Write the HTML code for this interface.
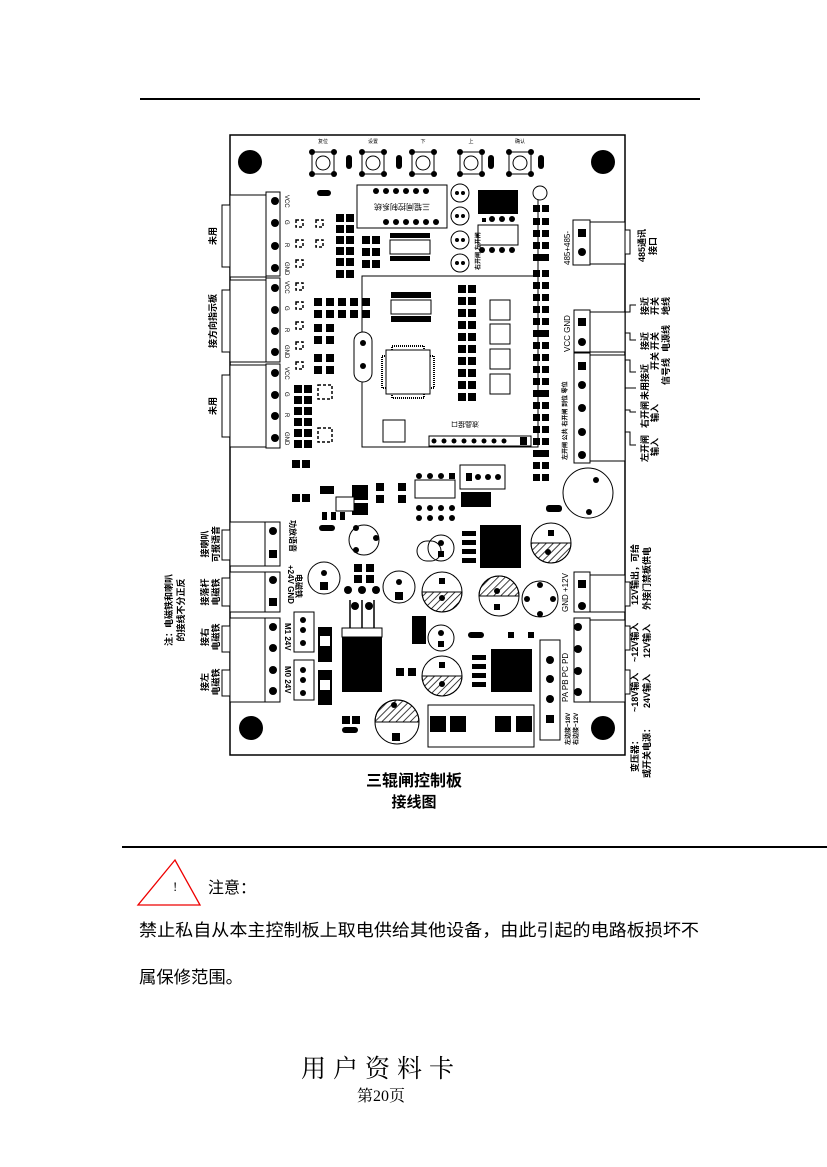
<!DOCTYPE html>
<html><head><meta charset="utf-8"><style>
html,body{margin:0;padding:0;background:#fff;}
body{width:827px;height:1167px;position:relative;overflow:hidden;font-family:"Liberation Serif","Noto Serif CJK SC",serif;}
svg{position:absolute;left:0;top:0;}
</style></head><body>
<svg width="827" height="1167" viewBox="0 0 827 1167" xmlns="http://www.w3.org/2000/svg" font-family="Liberation Sans, Noto Sans CJK SC, sans-serif">
<line x1="140" y1="99" x2="700" y2="99" stroke="#000" stroke-width="2"/>
<rect x="230" y="135" width="395" height="620" fill="#fff" stroke="#000" stroke-width="1.5"/>
<g fill="#000">
<circle cx="250" cy="162" r="12"/><circle cx="603" cy="162" r="12"/>
<circle cx="251" cy="728" r="12"/><circle cx="603" cy="728" r="12"/>
</g>
<g stroke="#000" fill="#fff" stroke-width="1">
<rect x="312" y="152" width="22" height="22"/><circle cx="323" cy="163" r="7"/>
<rect x="362" y="152" width="22" height="22"/><circle cx="373" cy="163" r="7"/>
<rect x="412" y="152" width="22" height="22"/><circle cx="423" cy="163" r="7"/>
<rect x="460" y="152" width="22" height="22"/><circle cx="471" cy="163" r="7"/>
<rect x="509" y="152" width="22" height="22"/><circle cx="520" cy="163" r="7"/>
</g>
<g fill="#000">
<circle cx="312" cy="152" r="3"/><circle cx="334" cy="152" r="3"/><circle cx="312" cy="174" r="3"/><circle cx="334" cy="174" r="3"/>
<circle cx="362" cy="152" r="3"/><circle cx="384" cy="152" r="3"/><circle cx="362" cy="174" r="3"/><circle cx="384" cy="174" r="3"/>
<circle cx="412" cy="152" r="3"/><circle cx="434" cy="152" r="3"/><circle cx="412" cy="174" r="3"/><circle cx="434" cy="174" r="3"/>
<circle cx="460" cy="152" r="3"/><circle cx="482" cy="152" r="3"/><circle cx="460" cy="174" r="3"/><circle cx="482" cy="174" r="3"/>
<circle cx="509" cy="152" r="3"/><circle cx="531" cy="152" r="3"/><circle cx="509" cy="174" r="3"/><circle cx="531" cy="174" r="3"/>
<rect x="346" y="155" width="6" height="14" rx="3"/><rect x="396" y="155" width="6" height="14" rx="3"/>
<rect x="488" y="155" width="6" height="14" rx="3"/><rect x="538" y="155" width="6" height="14" rx="3"/>
<rect x="317" y="190" width="14" height="6" rx="3"/>
</g>
<g font-size="5" text-anchor="middle"><text x="323" y="143">复位</text><text x="373" y="143">设置</text><text x="423" y="143">下</text><text x="471" y="143">上</text><text x="520" y="143">确认</text></g>
<rect x="357" y="185" width="90" height="43" fill="#fff" stroke="#000"/>
<g fill="#000"><circle cx="376" cy="191" r="3"/><circle cx="386" cy="191" r="3"/><circle cx="396" cy="191" r="3"/><circle cx="406" cy="191" r="3"/><circle cx="416" cy="191" r="3"/><circle cx="426" cy="191" r="3"/>
<circle cx="386" cy="222" r="3"/><circle cx="396" cy="222" r="3"/><circle cx="406" cy="222" r="3"/><circle cx="416" cy="222" r="3"/><circle cx="426" cy="222" r="3"/><circle cx="436" cy="222" r="3"/></g>
<text x="402" y="210" font-size="8" text-anchor="middle" transform="rotate(180 402 207)">三辊闸控制系统</text>
<line x1="447" y1="276" x2="538" y2="276" stroke="#000"/>
<line x1="538" y1="190" x2="538" y2="276" stroke="#000"/>
<g stroke="#000" fill="#fff"><circle cx="460" cy="193" r="9"/><circle cx="460" cy="216" r="9"/><circle cx="460" cy="240" r="9"/><circle cx="460" cy="263" r="9"/></g>
<g fill="#000"><circle cx="457" cy="193" r="2"/><circle cx="463" cy="193" r="2"/><circle cx="457" cy="216" r="2"/><circle cx="463" cy="216" r="2"/><circle cx="457" cy="240" r="2"/><circle cx="463" cy="240" r="2"/><circle cx="457" cy="263" r="2"/><circle cx="463" cy="263" r="2"/></g>
<rect x="478" y="225" width="40" height="20" fill="#fff" stroke="#000"/>
<g fill="#000"><rect x="478" y="190" width="40" height="24"/><circle cx="482" cy="250" r="3"/><circle cx="492" cy="250" r="3"/><circle cx="502" cy="250" r="3"/><circle cx="512" cy="250" r="3"/>
<rect x="482" y="218" width="4" height="4"/><circle cx="492" cy="219" r="3"/><circle cx="502" cy="219" r="3"/><circle cx="512" cy="219" r="3"/></g>
<circle cx="540" cy="193" r="7" fill="#fff" stroke="#000"/>
<rect x="362" y="276" width="176" height="171" fill="none" stroke="#000"/>
<rect x="391" y="300" width="40" height="14" fill="#fff" stroke="#000"/>
<g fill="#000"><rect x="391" y="292" width="40" height="6"/><rect x="391" y="316" width="40" height="6"/></g>
<rect x="390" y="240" width="40" height="14" fill="#fff" stroke="#000"/>
<g fill="#000"><rect x="390" y="233" width="40" height="5"/><rect x="390" y="256" width="40" height="5"/></g>
<rect x="392" y="346" width="32" height="52" fill="none" stroke="#000" stroke-dasharray="1 1" stroke-width="2"/>
<rect x="382" y="356" width="52" height="32" fill="none" stroke="#000" stroke-dasharray="1 1" stroke-width="2"/>
<rect x="386" y="350" width="44" height="44" fill="#fff" stroke="#000"/>
<rect x="354" y="332" width="18" height="50" rx="9" fill="#fff" stroke="#000"/>
<g fill="#000"><circle cx="363" cy="343" r="3"/><circle cx="363" cy="366" r="3"/></g>
<rect x="383" y="420" width="22" height="22" fill="#fff" stroke="#000"/>
<rect x="429" y="436" width="102" height="10" fill="#fff" stroke="#000"/>
<g fill="#000"><circle cx="434" cy="441" r="2.5"/><circle cx="444" cy="441" r="2.5"/><circle cx="454" cy="441" r="2.5"/><circle cx="464" cy="441" r="2.5"/><circle cx="474" cy="441" r="2.5"/><circle cx="484" cy="441" r="2.5"/><circle cx="494" cy="441" r="2.5"/><circle cx="504" cy="441" r="2.5"/><rect x="520" y="437" width="7" height="8"/></g>
<text x="465" y="428" font-size="7" text-anchor="middle" transform="rotate(180 465 425)">液晶接口</text>
<g stroke="#000" fill="#fff"><rect x="490" y="300" width="20" height="20"/><rect x="490" y="324" width="20" height="20"/><rect x="490" y="349" width="20" height="20"/><rect x="490" y="374" width="20" height="20"/></g>
<g fill="#000">
<rect x="336" y="214" width="8" height="8"/><rect x="346" y="214" width="8" height="8"/>
<rect x="336" y="225" width="8" height="8"/><rect x="346" y="225" width="8" height="8"/>
<rect x="336" y="236" width="8" height="8"/><rect x="346" y="236" width="8" height="8"/>
<rect x="336" y="247" width="8" height="8"/><rect x="346" y="247" width="8" height="8"/>
<rect x="336" y="258" width="8" height="8"/><rect x="346" y="258" width="8" height="8"/>
<rect x="336" y="270" width="8" height="8"/><rect x="346" y="270" width="8" height="8"/>
<rect x="362" y="236" width="8" height="8"/><rect x="372" y="236" width="8" height="8"/>
<rect x="362" y="248" width="8" height="8"/><rect x="372" y="248" width="8" height="8"/>
<rect x="362" y="260" width="8" height="8"/><rect x="372" y="260" width="8" height="8"/>
<rect x="314" y="298" width="8" height="8"/><rect x="326" y="298" width="8" height="8"/><rect x="338" y="298" width="8" height="8"/><rect x="350" y="298" width="8" height="8"/><rect x="362" y="298" width="8" height="8"/>
<rect x="314" y="310" width="8" height="8"/><rect x="326" y="310" width="8" height="8"/><rect x="338" y="310" width="8" height="8"/><rect x="350" y="310" width="8" height="8"/><rect x="362" y="310" width="8" height="8"/>
<rect x="314" y="324" width="8" height="8"/><rect x="326" y="324" width="8" height="8"/><rect x="314" y="336" width="8" height="8"/><rect x="326" y="336" width="8" height="8"/>
<rect x="314" y="354" width="8" height="8"/><rect x="326" y="354" width="8" height="8"/><rect x="314" y="366" width="8" height="8"/><rect x="326" y="366" width="8" height="8"/>
<rect x="294" y="385" width="8" height="8"/><rect x="304" y="385" width="8" height="8"/>
<rect x="294" y="396" width="8" height="8"/><rect x="304" y="396" width="8" height="8"/>
<rect x="294" y="407" width="8" height="8"/><rect x="304" y="407" width="8" height="8"/>
<rect x="294" y="418" width="8" height="8"/><rect x="304" y="418" width="8" height="8"/>
<rect x="294" y="429" width="8" height="8"/><rect x="304" y="429" width="8" height="8"/>
<rect x="294" y="440" width="8" height="8"/><rect x="304" y="440" width="8" height="8"/>
<rect x="458" y="285" width="8" height="8"/><rect x="468" y="285" width="8" height="8"/>
<rect x="458" y="297" width="8" height="8"/><rect x="468" y="297" width="8" height="8"/>
<rect x="458" y="309" width="8" height="8"/><rect x="468" y="309" width="8" height="8"/>
<rect x="458" y="321" width="8" height="8"/><rect x="468" y="321" width="8" height="8"/>
<rect x="458" y="333" width="8" height="8"/><rect x="468" y="333" width="8" height="8"/>
<rect x="458" y="345" width="8" height="8"/><rect x="468" y="345" width="8" height="8"/>
<rect x="458" y="357" width="8" height="8"/><rect x="468" y="357" width="8" height="8"/>
<rect x="458" y="369" width="8" height="8"/><rect x="468" y="369" width="8" height="8"/>
<rect x="458" y="381" width="8" height="8"/><rect x="468" y="381" width="8" height="8"/>
<rect x="458" y="393" width="8" height="8"/><rect x="468" y="393" width="8" height="8"/>
</g>
<g fill="#000">
<rect x="533" y="205" width="7" height="7"/><rect x="542" y="205" width="7" height="7"/>
<rect x="533" y="218" width="7" height="7"/><rect x="542" y="218" width="7" height="7"/>
<rect x="533" y="230" width="7" height="7"/><rect x="542" y="230" width="7" height="7"/>
<rect x="533" y="242" width="7" height="7"/><rect x="542" y="242" width="7" height="7"/>
<rect x="533" y="254" width="16" height="7"/>
<rect x="533" y="270" width="7" height="7"/><rect x="542" y="270" width="7" height="7"/>
<rect x="533" y="282" width="7" height="7"/><rect x="542" y="282" width="7" height="7"/>
<rect x="533" y="294" width="7" height="7"/><rect x="542" y="294" width="7" height="7"/>
<rect x="533" y="306" width="7" height="7"/><rect x="542" y="306" width="7" height="7"/>
<rect x="533" y="318" width="7" height="7"/><rect x="542" y="318" width="7" height="7"/>
<rect x="533" y="330" width="16" height="7"/>
<rect x="533" y="342" width="7" height="7"/><rect x="542" y="342" width="7" height="7"/>
<rect x="533" y="354" width="7" height="7"/><rect x="542" y="354" width="7" height="7"/>
<rect x="533" y="366" width="7" height="7"/><rect x="542" y="366" width="7" height="7"/>
<rect x="533" y="378" width="7" height="7"/><rect x="542" y="378" width="7" height="7"/>
<rect x="533" y="390" width="16" height="7"/>
<rect x="533" y="402" width="7" height="7"/><rect x="542" y="402" width="7" height="7"/>
<rect x="533" y="414" width="7" height="7"/><rect x="542" y="414" width="7" height="7"/>
<rect x="533" y="426" width="7" height="7"/><rect x="542" y="426" width="7" height="7"/>
<rect x="533" y="438" width="7" height="7"/><rect x="542" y="438" width="7" height="7"/>
<rect x="533" y="450" width="16" height="7"/>
<rect x="533" y="462" width="7" height="7"/><rect x="542" y="462" width="7" height="7"/>
<rect x="533" y="474" width="7" height="7"/><rect x="542" y="474" width="7" height="7"/>
</g>
<g fill="none" stroke="#000" stroke-width="1.5" stroke-dasharray="3 2">
<rect x="296" y="220" width="7" height="7"/><rect x="316" y="220" width="7" height="7"/>
<rect x="296" y="240" width="7" height="7"/><rect x="316" y="240" width="7" height="7"/>
<rect x="296" y="260" width="7" height="7"/><rect x="296" y="283" width="7" height="7"/>
<rect x="296" y="302" width="7" height="7"/><rect x="296" y="322" width="7" height="7"/>
<rect x="296" y="342" width="7" height="7"/><rect x="296" y="362" width="7" height="7"/>
<rect x="318" y="385" width="14" height="14"/><rect x="318" y="428" width="14" height="14"/>
</g>
<g stroke="#000" fill="#fff">
<rect x="222" y="205" width="8" height="62"/><rect x="230" y="195" width="36" height="82"/><rect x="266" y="192" width="14" height="84"/>
<rect x="222" y="290" width="8" height="62"/><rect x="230" y="280" width="36" height="82"/><rect x="266" y="278" width="14" height="84"/>
<rect x="222" y="375" width="8" height="62"/><rect x="230" y="365" width="36" height="82"/><rect x="266" y="364" width="14" height="84"/>
<rect x="222" y="530" width="8" height="30"/><rect x="230" y="522" width="35" height="44"/><rect x="265" y="522" width="15" height="44"/>
<rect x="222" y="578" width="8" height="28"/><rect x="230" y="572" width="35" height="40"/><rect x="265" y="572" width="15" height="40"/>
<rect x="222" y="626" width="8" height="26"/><rect x="222" y="670" width="8" height="26"/><rect x="230" y="618" width="35" height="84"/><rect x="265" y="618" width="15" height="84"/>
</g>
<g fill="#000">
<circle cx="275" cy="201" r="4"/><circle cx="275" cy="223" r="4"/><circle cx="275" cy="246" r="4"/><circle cx="275" cy="268" r="4"/>
<circle cx="275" cy="288" r="4"/><circle cx="275" cy="310" r="4"/><circle cx="275" cy="331" r="4"/><circle cx="275" cy="352" r="4"/>
<circle cx="275" cy="373" r="4"/><circle cx="275" cy="395" r="4"/><circle cx="275" cy="416" r="4"/><circle cx="275" cy="438" r="4"/>
<circle cx="273" cy="531" r="4"/><rect x="269" y="550" width="8" height="8"/>
<circle cx="273" cy="580" r="4"/><rect x="269" y="598" width="8" height="8"/>
<circle cx="273" cy="627" r="4"/><circle cx="273" cy="648" r="4"/><circle cx="273" cy="670" r="4"/><circle cx="273" cy="691" r="4"/>
</g>
<g font-size="6">
<text transform="translate(285,195) rotate(90)">VCC</text><text transform="translate(285,220) rotate(90)">G</text><text transform="translate(285,243) rotate(90)">R</text><text transform="translate(285,262) rotate(90)">GND</text>
<text transform="translate(285,281) rotate(90)">VCC</text><text transform="translate(285,306) rotate(90)">G</text><text transform="translate(285,328) rotate(90)">R</text><text transform="translate(285,345) rotate(90)">GND</text>
<text transform="translate(285,367) rotate(90)">VCC</text><text transform="translate(285,392) rotate(90)">G</text><text transform="translate(285,413) rotate(90)">R</text><text transform="translate(285,432) rotate(90)">GND</text>
</g>
<g font-size="8" font-weight="bold">
<text transform="translate(288,565) rotate(90)">+24V GND</text>
<text transform="translate(285,623) rotate(90)">M1 24V</text>
<text transform="translate(285,666) rotate(90)">M0 24V</text>
<text transform="translate(296,574) rotate(90)">电磁铁</text>
<text transform="translate(290,520) rotate(90)">功放语音</text>
</g>
<g font-size="9" font-weight="bold" text-anchor="middle">
<text transform="translate(216,236) rotate(-90)">未用</text>
<text transform="translate(216,321) rotate(-90)">接方向指示板</text>
<text transform="translate(216,406) rotate(-90)">未用</text>
<text transform="translate(208,544) rotate(-90)">接喇叭</text><text transform="translate(219,544) rotate(-90)">可报语音</text>
<text transform="translate(208,592) rotate(-90)">接落杆</text><text transform="translate(219,592) rotate(-90)">电磁铁</text>
<text transform="translate(208,637) rotate(-90)">接右</text><text transform="translate(219,637) rotate(-90)">电磁铁</text>
<text transform="translate(208,682) rotate(-90)">接左</text><text transform="translate(219,682) rotate(-90)">电磁铁</text>
<text transform="translate(172,610) rotate(-90)">注：电磁铁和喇叭</text><text transform="translate(184,610) rotate(-90)">的接线不分正反</text>
</g>
<g stroke="#000" fill="#fff"><rect x="294" y="612" width="20" height="40"/><rect x="294" y="660" width="20" height="40"/></g>
<g fill="#000"><circle cx="303" cy="620" r="3"/><circle cx="303" cy="630" r="3"/><circle cx="303" cy="643" r="3"/><circle cx="303" cy="670" r="3"/><circle cx="303" cy="680" r="3"/><circle cx="303" cy="693" r="3"/>
<rect x="318" y="627" width="14" height="35"/><rect x="318" y="670" width="14" height="35"/></g>
<g fill="#fff"><rect x="320" y="636" width="10" height="10"/><rect x="320" y="680" width="10" height="10"/></g>
<g stroke="#000" fill="#fff">
<rect x="573" y="220" width="17" height="45"/><rect x="590" y="222" width="35" height="42"/><rect x="625" y="230" width="5" height="24"/>
<rect x="574" y="310" width="16" height="42"/><rect x="590" y="312" width="35" height="40"/>
<rect x="574" y="353" width="16" height="110"/><rect x="590" y="355" width="35" height="106"/>
<rect x="574" y="572" width="16" height="40"/><rect x="590" y="575" width="35" height="37"/><rect x="625" y="582" width="5" height="24"/>
<rect x="574" y="618" width="16" height="84"/><rect x="590" y="620" width="35" height="82"/><rect x="625" y="626" width="5" height="24"/><rect x="625" y="670" width="5" height="24"/>
<rect x="540" y="640" width="20" height="100"/>
</g>
<!-- bracket lines right -->
<g stroke="#000" fill="none">
<path d="M625 312 L630 312 L630 305 L636 305"/>
<path d="M625 333 L630 333 L630 340 L636 340"/>
<path d="M625 360 L630 360 L630 372 L636 372"/>
<path d="M625 388 L636 388"/>
<path d="M625 410 L630 410 L630 412 L636 412"/>
<path d="M625 432 L630 432 L630 445 L636 445"/>
</g>
<g fill="#000">
<rect x="578" y="229" width="8" height="8"/><circle cx="582" cy="252" r="4"/>
<rect x="578" y="318" width="8" height="8"/><circle cx="582" cy="342" r="4"/>
<rect x="578" y="362" width="8" height="8"/><circle cx="582" cy="385" r="4"/><circle cx="582" cy="408" r="4"/><circle cx="582" cy="432" r="4"/><circle cx="582" cy="455" r="4"/>
<rect x="578" y="580" width="8" height="8"/><circle cx="582" cy="606" r="4"/>
<circle cx="578" cy="627" r="4"/><circle cx="578" cy="649" r="4"/><circle cx="578" cy="671" r="4"/><circle cx="578" cy="692" r="4"/>
<circle cx="550" cy="660" r="4"/><circle cx="550" cy="679" r="4"/><circle cx="550" cy="699" r="4"/><rect x="546" y="715" width="8" height="8"/>
</g>
<g font-size="8">
<text transform="translate(570,265) rotate(-90)">485+485-</text>
<text transform="translate(570,352) rotate(-90)">VCC GND</text>
<text transform="translate(568,702) rotate(-90)">PA  PB  PC  PD</text>
<text transform="translate(568,612) rotate(-90)">GND +12V</text>
</g>
<g font-size="6" font-weight="bold">
<text transform="translate(567,460) rotate(-90)">左开闸 公共 右开闸 到位 零位</text>
<text transform="translate(570,745) rotate(-90)">左边接~18V</text><text transform="translate(578,745) rotate(-90)">右边接~12V</text>
<text transform="translate(480,270) rotate(-90)">右开闸 左开闸</text>
</g>
<g font-size="9" font-weight="bold">
<text transform="translate(645,262) rotate(-90)">485通讯</text><text transform="translate(656,255) rotate(-90)">接口</text>
<text transform="translate(648,315) rotate(-90)">接近</text><text transform="translate(658,315) rotate(-90)">开关</text><text transform="translate(669,315) rotate(-90)">地线</text>
<text transform="translate(648,350) rotate(-90)">接近</text><text transform="translate(658,350) rotate(-90)">开关</text><text transform="translate(669,352) rotate(-90)">电源线</text>
<text transform="translate(648,400) rotate(-90)">未用接近</text><text transform="translate(658,370) rotate(-90)">开关</text><text transform="translate(669,385) rotate(-90)">信号线</text>
<text transform="translate(648,428) rotate(-90)">右开闸</text><text transform="translate(658,422) rotate(-90)">输入</text>
<text transform="translate(648,462) rotate(-90)">左开闸</text><text transform="translate(658,456) rotate(-90)">输入</text>
<text transform="translate(638,605) rotate(-90)">12V输出，可给</text><text transform="translate(650,610) rotate(-90)">外接门禁板供电</text>
<text transform="translate(638,662) rotate(-90)">~12V输入</text><text transform="translate(650,658) rotate(-90)">12V输入</text>
<text transform="translate(638,712) rotate(-90)">~18V输入</text><text transform="translate(650,708) rotate(-90)">24V输入</text>
<text transform="translate(638,772) rotate(-90)">变压器：</text><text transform="translate(650,778) rotate(-90)">或开关电源：</text>
</g>
<defs><pattern id="h" width="5" height="5" patternUnits="userSpaceOnUse" patternTransform="rotate(45)"><line x1="0" y1="0" x2="0" y2="5" stroke="#000" stroke-width="1.5"/></pattern></defs>
<g fill="#000">
<rect x="480" y="525" width="41" height="43"/><rect x="491" y="649" width="41" height="43"/>
<rect x="342" y="636" width="40" height="56"/>
<rect x="462" y="531" width="14" height="5"/><rect x="462" y="540" width="14" height="5"/><rect x="462" y="549" width="14" height="5"/><rect x="462" y="558" width="14" height="5"/>
<rect x="472" y="655" width="14" height="5"/><rect x="472" y="664" width="14" height="5"/><rect x="472" y="673" width="14" height="5"/><rect x="472" y="682" width="14" height="5"/>
<rect x="412" y="616" width="14" height="28"/><rect x="461" y="492" width="30" height="15"/>
</g>
<rect x="342" y="628" width="40" height="9" fill="#fff" stroke="#000"/>
<g stroke="#000" stroke-width="1.5"><line x1="350" y1="600" x2="350" y2="628"/><line x1="362" y1="600" x2="362" y2="628"/><line x1="374" y1="600" x2="374" y2="628"/></g>
<g fill="#000"><circle cx="348" cy="590" r="4"/><circle cx="362" cy="590" r="4"/><circle cx="376" cy="590" r="4"/><circle cx="355" cy="606" r="4"/><circle cx="369" cy="606" r="4"/></g>
<g stroke="#000" fill="#fff">
<circle cx="588" cy="493" r="25"/>
<circle cx="324" cy="578" r="16"/><circle cx="399" cy="587" r="16"/><circle cx="442" cy="592" r="20"/>
<circle cx="499" cy="596" r="20"/><circle cx="540" cy="599" r="18"/>
<circle cx="442" cy="676" r="20"/><circle cx="397" cy="722" r="22"/><circle cx="551" cy="543" r="20"/>
<circle cx="441" cy="548" r="13"/><circle cx="441" cy="638" r="13"/><circle cx="364" cy="540" r="15"/>
</g>
<g fill="url(#h)" stroke="#000">
<path d="M422 592 A20 20 0 0 0 462 592 Z"/><path d="M479 596 A20 20 0 0 1 519 596 Z"/>
<path d="M422 676 A20 20 0 0 0 462 676 Z"/><path d="M375 722 A22 22 0 0 1 419 722 Z"/><path d="M531 543 A20 20 0 0 0 571 543 Z"/>
</g>
<g fill="#000">
<circle cx="596" cy="480" r="3"/><circle cx="589" cy="512" r="3"/>
<circle cx="324" cy="573" r="3"/><rect x="320" y="582" width="8" height="8"/>
<circle cx="399" cy="582" r="3"/><rect x="395" y="592" width="8" height="8"/>
<rect x="439" y="578" width="6" height="6"/><circle cx="442" cy="598" r="3"/>
<circle cx="497" cy="591" r="3"/><rect x="494" y="604" width="6" height="6"/>
<circle cx="540" cy="585" r="3"/><circle cx="527" cy="599" r="3"/><circle cx="553" cy="599" r="3"/><circle cx="540" cy="614" r="3"/>
<rect x="439" y="662" width="6" height="6"/><circle cx="442" cy="684" r="3"/>
<circle cx="394" cy="705" r="3"/><rect x="392" y="733" width="8" height="8"/>
<rect x="548" y="530" width="6" height="6"/><circle cx="548" cy="552" r="3"/>
<circle cx="441" cy="543" r="3"/><rect x="438" y="551" width="6" height="6"/>
<circle cx="441" cy="633" r="3"/><rect x="438" y="641" width="6" height="6"/>
<circle cx="356" cy="528" r="3"/><circle cx="376" cy="538" r="3"/><circle cx="356" cy="550" r="3"/>
</g>
<rect x="428" y="705" width="106" height="42" fill="#fff" stroke="#000"/>
<g fill="#000"><rect x="430" y="716" width="16" height="16"/><rect x="450" y="716" width="16" height="16"/><rect x="495" y="716" width="16" height="16"/><rect x="516" y="716" width="16" height="16"/></g>
<rect x="460" y="465" width="45" height="24" fill="#fff" stroke="#000"/>
<g fill="#000"><rect x="466" y="473" width="6" height="8"/><circle cx="478" cy="477" r="3"/><circle cx="488" cy="477" r="3"/><circle cx="498" cy="477" r="3"/></g>
<rect x="415" y="480" width="40" height="18" fill="#fff" stroke="#000"/>
<g fill="#000"><circle cx="419" cy="476" r="3"/><circle cx="430" cy="476" r="3"/><circle cx="441" cy="476" r="3"/><rect x="449" y="473" width="6" height="6"/>
<circle cx="419" cy="508" r="3"/><circle cx="430" cy="508" r="3"/><circle cx="441" cy="508" r="3"/><circle cx="452" cy="508" r="3"/>
<circle cx="419" cy="518" r="3"/><circle cx="430" cy="518" r="3"/><circle cx="441" cy="518" r="3"/><circle cx="452" cy="518" r="3"/>
<rect x="320" y="486" width="14" height="8"/><rect x="352" y="485" width="16" height="15"/><rect x="352" y="503" width="16" height="12"/>
<rect x="322" y="512" width="5" height="8"/><rect x="331" y="512" width="5" height="8"/><rect x="340" y="512" width="5" height="8"/>
<rect x="319" y="525" width="16" height="6" rx="3"/>
<rect x="376" y="483" width="8" height="8"/><rect x="376" y="495" width="8" height="8"/><rect x="398" y="483" width="8" height="8"/><rect x="398" y="495" width="8" height="8"/>
<rect x="292" y="460" width="8" height="8"/><rect x="302" y="460" width="8" height="8"/><rect x="292" y="494" width="8" height="8"/><rect x="302" y="494" width="8" height="8"/>
<rect x="354" y="564" width="8" height="8"/><rect x="366" y="564" width="8" height="8"/><rect x="354" y="575" width="8" height="8"/><rect x="366" y="575" width="8" height="8"/>
<rect x="396" y="668" width="8" height="8"/><rect x="408" y="668" width="8" height="8"/>
<rect x="342" y="716" width="8" height="8"/><rect x="352" y="716" width="8" height="8"/><rect x="342" y="727" width="16" height="6" rx="3"/>
<rect x="468" y="632" width="16" height="6" rx="3"/><rect x="508" y="632" width="6" height="6"/><rect x="528" y="632" width="6" height="6"/>
<rect x="546" y="505" width="16" height="7" rx="3"/>
</g>
<rect x="336" y="497" width="18" height="14" fill="#fff" stroke="#000"/>
<rect x="417" y="541" width="24" height="20" rx="10" fill="none" stroke="#000"/>
<g font-size="16" font-weight="bold" text-anchor="middle">
<text x="414" y="786">三辊闸控制板</text><text x="414" y="807" font-size="15">接线图</text>
</g>
<line x1="122" y1="847" x2="827" y2="847" stroke="#000" stroke-width="2"/>
<polygon points="175,860 138,905 200,905" fill="none" stroke="#e00" stroke-width="1.3"/>
<text x="173" y="891" font-size="13" font-family="Liberation Serif, serif">!</text>
<text x="208" y="893" font-size="16" font-family="Liberation Serif, Noto Sans CJK SC, sans-serif">注意：</text>
<g font-size="17" font-family="Liberation Serif, Noto Sans CJK SC, sans-serif">
<text x="139" y="936" textLength="560" lengthAdjust="spacingAndGlyphs">禁止私自从本主控制板上取电供给其他设备，由此引起的电路板损坏不</text>
<text x="139" y="983" textLength="104" lengthAdjust="spacingAndGlyphs">属保修范围。</text>
</g>
<text x="381" y="1077" font-size="25" text-anchor="middle" font-family="Liberation Serif, Noto Serif CJK SC, serif" letter-spacing="7">用户资料卡</text>
<text x="381" y="1101" font-size="16" text-anchor="middle" font-family="Liberation Serif, Noto Serif CJK SC, serif">第20页</text>
</svg>
</body></html>
